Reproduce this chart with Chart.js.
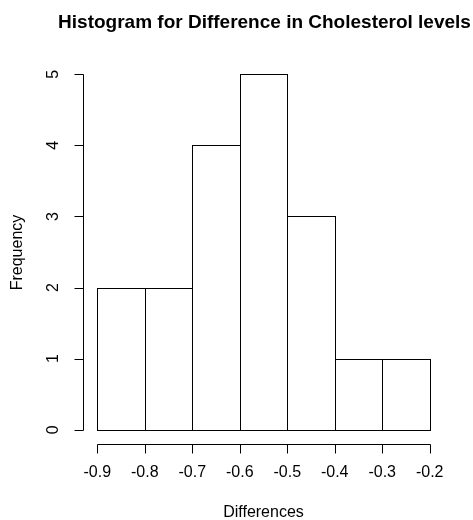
<!DOCTYPE html>
<html>
<head>
<meta charset="utf-8">
<script src="https://cdn.jsdelivr.net/npm/chart.js@4"></script>
<style>
  html, body { margin: 0; padding: 0; background: #fff; }
  #wrap { width: 473px; height: 520px; }
</style>
</head>
<body>
<div id="wrap"><canvas id="histCanvas" width="473" height="520"></canvas></div>
<script>
// bins of width 0.1 from -0.9 to -0.2
const binStarts = [-0.9, -0.8, -0.7, -0.6, -0.5, -0.4, -0.3];
const counts = [2, 2, 4, 5, 3, 1, 1];
const xTicks = [-0.9, -0.8, -0.7, -0.6, -0.5, -0.4, -0.3, -0.2];
const yTicks = [0, 1, 2, 3, 4, 5];
const binWidth = 0.1;

const font = "'Liberation Sans', Arial, sans-serif";
const snap = v => Math.round(v) + 0.5;

// crisp 1px outlines for the bar elements laid out by Chart.js
const barOutline = {
    id: 'barOutline',
    afterDatasetsDraw(chart) {
        const ctx = chart.ctx;
        ctx.save();
        ctx.strokeStyle = '#000';
        ctx.lineWidth = 1;
        chart.getDatasetMeta(0).data.forEach(bar => {
            const p = bar.getProps(['x', 'y', 'base', 'width'], true);
            const l = snap(p.x - p.width / 2), r = snap(p.x + p.width / 2);
            const t = snap(p.y), b = snap(p.base);
            ctx.strokeRect(l, t, r - l, b - t);
        });
        ctx.restore();
    }
};

// R-style axes, drawn through the chart's scales
const rAxes = {
    id: 'rAxes',
    afterDraw(chart) {
        const ctx = chart.ctx;
        const xs = chart.scales.x;
        const ys = chart.scales.y;
        const area = chart.chartArea;
        ctx.save();
        ctx.strokeStyle = '#000';
        ctx.fillStyle = '#000';
        ctx.lineWidth = 1;

        // x axis
        const yb = snap(area.bottom);
        ctx.beginPath();
        ctx.moveTo(snap(xs.getPixelForValue(xTicks[0])), yb);
        ctx.lineTo(snap(xs.getPixelForValue(xTicks[xTicks.length - 1])), yb);
        xTicks.forEach(v => {
            const px = snap(xs.getPixelForValue(v));
            ctx.moveTo(px, yb);
            ctx.lineTo(px, yb + 9);
        });
        ctx.stroke();
        ctx.font = '16px ' + font;
        ctx.textAlign = 'center';
        ctx.textBaseline = 'middle';
        xTicks.forEach(v => {
            ctx.fillText(v.toFixed(1), xs.getPixelForValue(v), 473);
        });
        ctx.fillText('Differences', (area.left + area.right) / 2, 513);

        // y axis
        const xl = Math.round(area.left) - 0.5;
        ctx.beginPath();
        ctx.moveTo(xl, snap(ys.getPixelForValue(yTicks[0])));
        ctx.lineTo(xl, snap(ys.getPixelForValue(yTicks[yTicks.length - 1])));
        yTicks.forEach(v => {
            const py = snap(ys.getPixelForValue(v));
            ctx.moveTo(xl, py);
            ctx.lineTo(xl - 9, py);
        });
        ctx.stroke();
        yTicks.forEach(v => {
            ctx.save();
            ctx.translate(54, ys.getPixelForValue(v));
            ctx.rotate(-Math.PI / 2);
            ctx.fillText(String(v), 0, 0);
            ctx.restore();
        });
        ctx.save();
        ctx.translate(18, (ys.getPixelForValue(0) + ys.getPixelForValue(5)) / 2 + 0.5);
        ctx.rotate(-Math.PI / 2);
        ctx.fillText('Frequency', 0, 0);
        ctx.restore();

        // title
        ctx.font = 'bold 19px ' + font;
        ctx.fillText('Histogram for Difference in Cholesterol levels', (area.left + area.right) / 2 + 1, 23);
        ctx.restore();
    }
};

const histCanvas = document.getElementById('histCanvas');
const histChart = new Chart(histCanvas, {
    type: 'bar',
    data: {
        datasets: [{
            label: 'Frequency',
            data: binStarts.map((b, i) => ({ x: b + binWidth / 2, y: counts[i] })),
            backgroundColor: '#fff',
            borderWidth: 0,
            barPercentage: 1,
            categoryPercentage: 1
        }]
    },
    options: {
        responsive: false,
        animation: false,
        layout: {
            padding: { left: 84, right: 30, top: 60, bottom: 76 }
        },
        plugins: {
            legend: { display: false },
            tooltip: { enabled: false },
            title: { display: false }
        },
        scales: {
            x: {
                type: 'linear',
                min: -0.928,
                max: -0.172,
                display: false,
                offset: false
            },
            y: {
                min: -0.2,
                max: 5.2,
                display: false
            }
        }
    },
    plugins: [barOutline, rAxes]
});
</script>
</body>
</html>
